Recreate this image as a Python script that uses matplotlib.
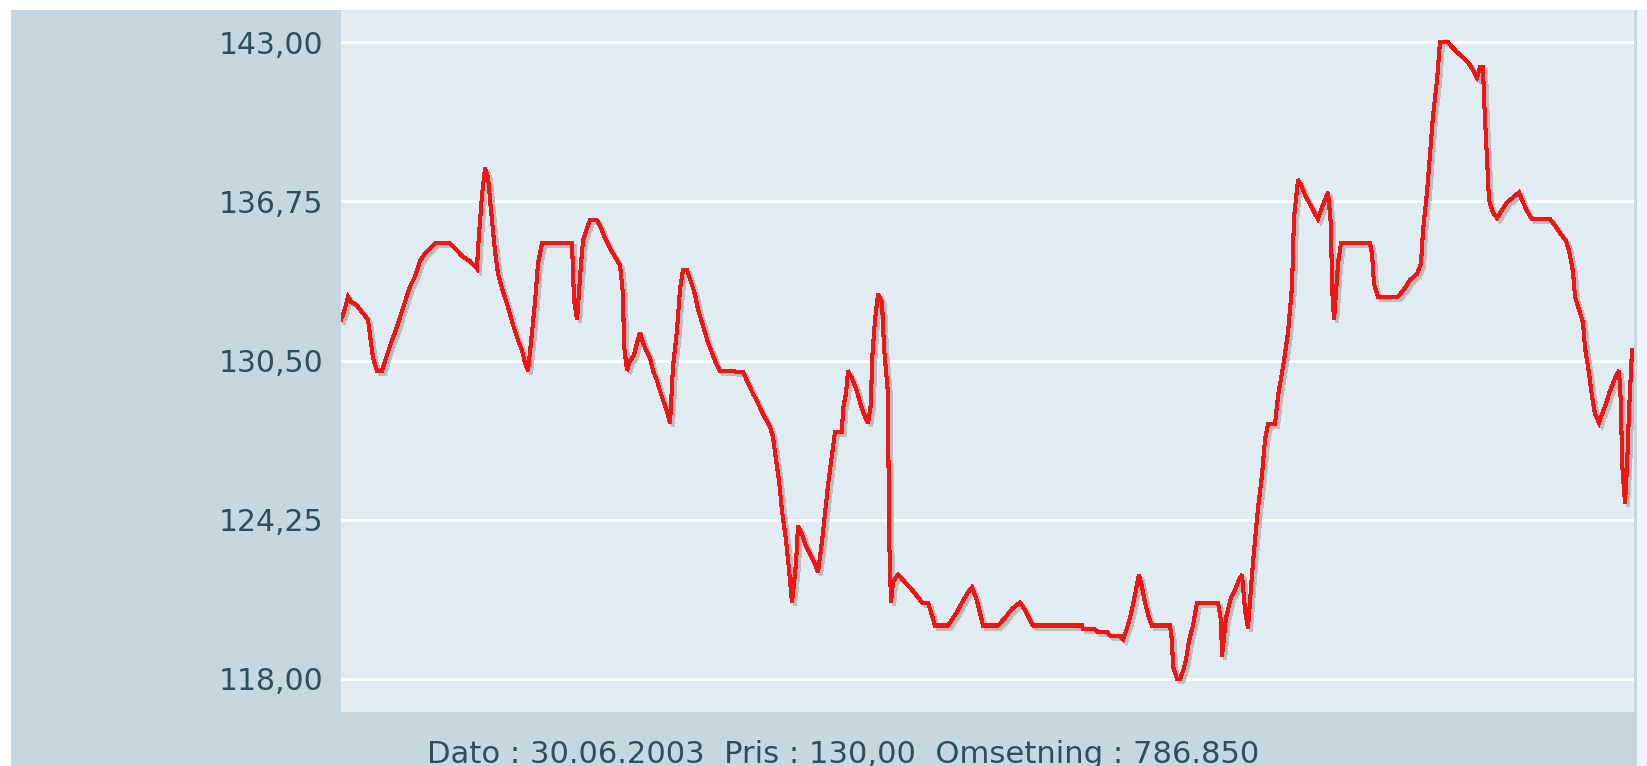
import matplotlib
matplotlib.use('Agg')
import matplotlib.pyplot as plt
import matplotlib.transforms as mtransforms
from matplotlib.patches import Rectangle

# horizontal position along the chart (trading period)
t = [0, 3, 7, 10, 15, 21, 27, 32, 36, 41, 45, 51, 54, 59, 64, 69, 74, 79, 84, 89,
     94, 109, 114, 121, 129, 136, 137, 141, 144, 147, 150, 154, 157, 162, 167, 172,
     177, 181, 184, 187, 191, 194, 197, 201,
     231, 233, 236, 240, 242, 246, 249, 256, 259, 263, 269, 275, 279, 282, 283, 286,
     289, 293, 296, 299, 302, 305, 309, 312, 316, 319, 322, 326, 329, 332, 336, 339,
     342, 346, 349, 354, 357, 361, 364, 367, 372, 376, 379, 402, 406, 412, 416, 422,
     429,
     432, 434, 438, 441, 445, 448, 451, 455, 457, 461, 464, 469, 474, 477, 481, 484,
     487, 491, 494, 501, 502, 505, 507, 511, 515, 521, 525, 527, 530, 531, 534, 537,
     541, 543, 547, 548, 550, 552, 557, 564, 571, 577, 581, 587, 591, 594, 607, 614,
     621, 627, 631, 635, 639, 642,
     657, 664, 671, 679, 684, 689, 692, 741, 742, 754, 757, 766, 769, 779, 782, 786,
     789, 794, 798, 801, 804, 808, 811, 829, 831, 832, 836, 839, 842, 845, 848, 852,
     856,
     877, 880, 881, 885, 890, 894, 897, 901, 904, 907, 911, 914, 917, 921, 924, 927,
     934, 937, 940, 943, 947, 951, 953, 957, 961, 964, 968, 972, 977, 980, 984, 987,
     990, 991, 993, 997, 1000, 1029, 1031, 1033, 1037, 1057, 1061, 1065, 1069,
     1076, 1080, 1082, 1086, 1089, 1092, 1096, 1099, 1107, 1111, 1116, 1122, 1129,
     1136, 1139, 1142, 1143, 1146, 1148, 1152, 1156, 1161, 1166, 1172, 1178, 1182,
     1187, 1191, 1209, 1214, 1219, 1225, 1228, 1232, 1234, 1238, 1242, 1244, 1248,
     1251, 1254, 1258, 1261, 1265, 1268, 1271, 1275, 1278, 1280, 1281, 1284, 1286,
     1288, 1291]

price = [132.1, 132.4, 133.0, 132.8, 132.7, 132.4, 132.1, 130.6, 130.1, 130.1, 130.6,
         131.3, 131.6, 132.2, 132.8, 133.4, 133.8, 134.4, 134.7, 134.9,
         135.1, 135.1, 134.9, 134.6, 134.4, 134.1, 134.9, 137.0, 138.05, 137.7, 136.4,
         134.8, 133.9, 133.2, 132.6, 131.9, 131.3, 130.9, 130.4, 130.1, 131.6, 132.8,
         134.3, 135.1,
         135.1, 132.9, 132.1, 134.3, 135.2, 135.7, 136.0, 136.0, 135.8, 135.4, 134.9,
         134.5, 134.25, 133.1, 131.1, 130.1, 130.5, 130.7, 131.2, 131.6, 131.2, 130.9,
         130.6, 130.1, 129.7, 129.3, 128.95, 128.5, 128.05, 130.25, 131.7, 133.3,
         134.05, 134.05, 133.7, 133.1, 132.5, 132.0, 131.6, 131.2, 130.7, 130.3, 130.1,
         130.05, 129.7, 129.2, 128.9, 128.4, 127.9,
         127.5, 126.9, 125.8, 124.6, 123.45, 122.3, 121.0, 122.55, 124.0, 123.7, 123.3,
         122.9, 122.5, 122.2, 123.4, 124.5, 125.6, 126.8, 127.7, 127.7, 128.6, 129.2,
         130.1, 129.8, 129.4, 128.6, 128.2, 128.05, 128.8, 130.5, 132.1, 133.1, 132.8,
         131.0, 129.2, 123.7, 121.0, 121.8, 122.1, 121.8, 121.5, 121.2, 121.0, 121.0,
         120.5, 120.1, 120.1, 120.5, 121.0, 121.4, 121.6, 121.2, 120.6, 120.1,
         120.1, 120.4, 120.75, 121.0, 120.7, 120.3, 120.1, 120.1, 119.95, 119.95,
         119.85, 119.85, 119.7, 119.7, 119.55, 120.0, 120.4, 121.3, 122.1, 121.6, 121.0,
         120.4, 120.1, 120.1, 119.5, 118.5, 118.0, 118.0, 118.3, 118.75, 119.5, 120.1,
         121.0,
         121.0, 120.3, 118.9, 120.4, 121.2, 121.5, 121.8, 122.1, 120.7, 120.0, 122.1,
         123.45, 124.7, 126.0, 127.4, 128.0, 128.0, 129.1, 129.8, 130.5, 131.6, 133.4,
         136.1, 137.6, 137.3, 137.0, 136.7, 136.4, 136.05, 136.4, 136.8, 137.1, 135.8,
         133.4, 132.1, 134.3, 135.1, 135.1, 134.7, 133.5, 133.0, 133.0, 133.2, 133.4,
         133.66,
         133.9, 134.3, 135.6, 137.1, 138.6, 140.1, 141.5, 143.0, 143.0, 142.8, 142.6,
         142.4, 142.1, 141.6, 142.0, 142.0, 140.8, 138.4, 136.8, 136.3, 136.1, 136.4,
         136.7, 136.9, 137.1, 136.7, 136.3, 136.05, 136.05, 135.8, 135.5, 135.2, 134.8,
         134.0, 133.0, 132.5, 132.0, 131.0, 130.0, 129.1, 128.4, 128.05, 128.4, 128.8,
         129.2, 129.5, 129.9, 130.1, 128.8, 126.5, 124.9, 126.3, 128.5, 130.9]

yticks = [118.0, 124.25, 130.5, 136.75, 143.0]
ytick_labels = ['118,00', '124,25', '130,50', '136,75', '143,00']
info_text = 'Dato : 30.06.2003  Pris : 130,00  Omsetning : 786.850'

W, H = 1647, 766
panel_col = '#c5d8e2'
plot_col = '#e1ecf2'
text_col = '#2f4f58'

fig = plt.figure(figsize=(W / 100, H / 100), dpi=100, facecolor='white')

# outer panel and right edge strip (behind the axes)
fig.patches.append(Rectangle((11 / W, 0), (1637 - 11) / W, (H - 10) / H,
                             transform=fig.transFigure, facecolor=panel_col,
                             edgecolor='none', zorder=-10))
fig.patches.append(Rectangle((1637 / W, 0), 10 / W, (H - 10) / H,
                             transform=fig.transFigure, facecolor='#eef3fd',
                             edgecolor='none', zorder=-10))

ax = fig.add_axes([341 / W, (H - 712) / H, (1634 - 341) / W, (712 - 10) / H])
ax.set_facecolor(plot_col)
for s in ax.spines.values():
    s.set_visible(False)

ax.set_xlim(0, 1293)
ax.set_ylim(118 - 33 / 25.48, 143 + 32 / 25.48)

for y in yticks:
    ax.axhline(y, color='white', lw=2.2, zorder=1)

ax.set_xticks([])
ax.set_yticks(yticks)
ax.set_yticklabels(ytick_labels, fontsize=21.5, color=text_col, family='DejaVu Sans')
ax.tick_params(axis='y', length=0, pad=13)

# grey drop shadow, then the red price line
shadow = mtransforms.offset_copy(ax.transData, fig=fig, x=3, y=-3, units='dots')
ax.plot(t, price, color='#bdbdbd', lw=2.2, transform=shadow, zorder=2,
        antialiased=False, solid_joinstyle='miter')
ax.plot(t, price, color='#ee1515', lw=2.2, zorder=3,
        antialiased=False, solid_joinstyle='miter')

fig.text(427 / W, (H - 740) / H, info_text, fontsize=22.1, color=text_col,
         family='DejaVu Sans', ha='left', va='top')

fig.savefig('out.png', dpi=100, facecolor=fig.get_facecolor())
